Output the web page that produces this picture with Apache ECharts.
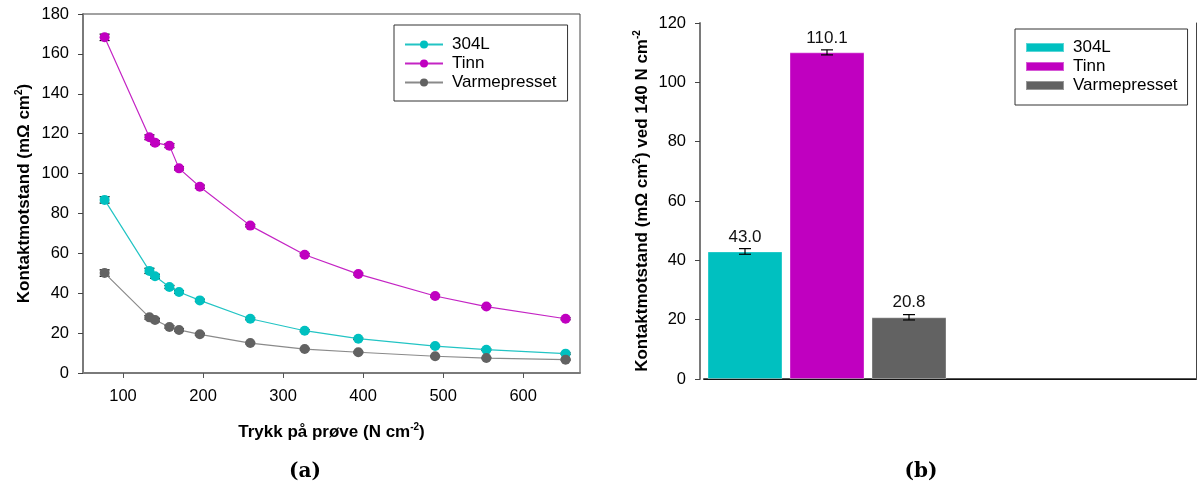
<!DOCTYPE html>
<html>
<head>
<meta charset="utf-8">
<script src="https://cdn.jsdelivr.net/npm/echarts@6/dist/echarts.min.js"></script>
<style>html,body{margin:0;padding:0;background:#fff}#c{width:1197px;height:491px}</style>
</head>
<body>
<div id="c"></div>
<script>
// ---- data (a): contact resistance vs pressure ----
const pressure = [77, 133, 140, 158, 170, 196, 259, 327, 394, 490, 554, 653];
const tinn     = [168.3, 118.2, 115.5, 114.0, 102.6, 93.4, 73.9, 59.3, 49.6, 38.6, 33.3, 27.2];
const tinnErr  = [1.6, 1.2, 1.0, 1.0, 0.8, 0.8, 0.6, 0.6, 0.5, 0.5, 0.5, 0.5];
const s304L    = [86.8, 51.2, 48.5, 43.1, 40.6, 36.4, 27.2, 21.2, 17.2, 13.5, 11.7, 9.7];
const s304LErr = [1.6, 1.3, 1.0, 0.8, 0.7, 0.6, 0.5, 0.5, 0.4, 0.4, 0.4, 0.4];
const varme    = [50.1, 27.9, 26.6, 23.1, 21.6, 19.4, 15.0, 12.0, 10.4, 8.4, 7.5, 6.7];
const varmeErr = [1.6, 0.9, 0.8, 0.6, 0.6, 0.5, 0.4, 0.4, 0.4, 0.3, 0.3, 0.3];
const xTicks   = [100, 200, 300, 400, 500, 600];

// ---- data (b): contact resistance at 140 N cm-2 ----
const barNames  = ['304L', 'Tinn', 'Varmepresset'];
const barValues = [43.0, 110.1, 20.8];
const barErr    = [0.95, 0.85, 0.9];
const barSlots  = ['304L', 'Tinn', 'Varmepresset', '', '', ''];

const colors = {'304L': '#00c0c0', 'Tinn': '#c000c0', 'Varmepresset': '#626262'};
const lineColors = {'304L': '#22c4c4', 'Tinn': '#c424c4', 'Varmepresset': '#8a8a8a'};

const chart = echarts.init(document.getElementById('c'), null, {renderer: 'canvas'});

function errItem(capHalf) {
  return function (params, api) {
    const x = api.value(0), y = api.value(1), e = api.value(2);
    const hi = api.coord([x, y + e]);
    const lo = api.coord([x, y - e]);
    const st = {stroke: '#000', lineWidth: 1.2};
    return {type: 'group', children: [
      {type: 'line', shape: {x1: hi[0], y1: hi[1], x2: lo[0], y2: lo[1]}, style: st},
      {type: 'line', shape: {x1: hi[0] - capHalf, y1: hi[1], x2: hi[0] + capHalf, y2: hi[1]}, style: st},
      {type: 'line', shape: {x1: lo[0] - capHalf, y1: lo[1], x2: lo[0] + capHalf, y2: lo[1]}, style: st}
    ]};
  };
}

const lineData = {'304L': [s304L, s304LErr], 'Tinn': [tinn, tinnErr], 'Varmepresset': [varme, varmeErr]};

const series = [];
barNames.forEach(function (n) {
  const vals = lineData[n][0], errs = lineData[n][1];
  series.push({
    type: 'custom', xAxisIndex: 0, yAxisIndex: 0, z: 1, silent: true,
    renderItem: errItem(5),
    data: pressure.map(function (p, i) { return [p, vals[i], errs[i]]; })
  });
  series.push({
    name: n, type: 'line', xAxisIndex: 0, yAxisIndex: 0, z: 3,
    symbol: 'circle', symbolSize: 10,
    itemStyle: {color: colors[n]},
    lineStyle: {color: lineColors[n], width: 1.2},
    data: pressure.map(function (p, i) { return [p, vals[i]]; })
  });
});

barNames.forEach(function (n, k) {
  series.push({
    name: 'bar:' + n, type: 'bar', xAxisIndex: 1, yAxisIndex: 1,
    barWidth: 75, barGap: '-100%',
    itemStyle: {color: colors[n], borderColor: 'rgba(255,255,255,0.35)', borderWidth: 1},
    label: {show: true, position: 'top', distance: 6, fontSize: 17, color: '#111',
            fontFamily: 'Liberation Sans', formatter: function (p) { return p.value.toFixed(1); }},
    data: barSlots.map(function (s, i) { return i === k ? barValues[k] : '-'; })
  });
  series.push({
    type: 'custom', xAxisIndex: 1, yAxisIndex: 1, z: 5, silent: true,
    renderItem: errItem(6),
    data: [[k, barValues[k], barErr[k]]]
  });
});

const nameStyle = {
  fontSize: 17, fontWeight: 'bold', color: '#000', fontFamily: 'Liberation Sans', lineHeight: 20,
  rich: {sup: {fontSize: 10, fontWeight: 'bold', color: '#000', fontFamily: 'Liberation Sans',
               verticalAlign: 'top', lineHeight: 12}}
};
const tickLabel = {fontSize: 16.5, color: '#000', fontFamily: 'Liberation Sans'};
const axisGray = {lineStyle: {color: '#7a7a7a', width: 2}};
const legendText = {fontSize: 17, color: '#000', lineHeight: 17, fontFamily: 'Liberation Sans', padding: [0, 0, 0, 4]};

chart.setOption({
  animation: false,
  textStyle: {fontFamily: 'Liberation Sans'},
  grid: [
    {left: 83, top: 14, width: 497, height: 359, show: true, borderColor: '#444', borderWidth: 1},
    {left: 704, top: 23, width: 492, height: 356, show: false}
  ],
  xAxis: [
    {gridIndex: 0, type: 'value', min: 50, max: 671,
     name: 'Trykk på prøve (N cm{sup|-2})', nameLocation: 'middle', nameGap: 49, nameTextStyle: nameStyle,
     axisLine: {show: true, onZero: false, lineStyle: {color: '#7a7a7a', width: 2}},
     axisTick: {show: true, length: 5, customValues: xTicks, lineStyle: {color: '#555'}},
     axisLabel: {margin: 15, customValues: xTicks, ...tickLabel},
     splitLine: {show: false}},
    {gridIndex: 1, type: 'category', data: barSlots,
     axisLine: {show: true, lineStyle: {color: '#555', width: 2}},
     axisTick: {show: false}, axisLabel: {show: false}, splitLine: {show: false}},
    {gridIndex: 1, type: 'category', data: barSlots, position: 'top',
     axisLine: {show: true, lineStyle: {color: '#111', width: 1}},
     axisTick: {show: false}, axisLabel: {show: false}, splitLine: {show: false}}
  ],
  yAxis: [
    {gridIndex: 0, type: 'value', min: 0, max: 180, interval: 20,
     name: 'Kontaktmotstand (mΩ cm{sup|2})', nameLocation: 'middle', nameGap: 49, nameTextStyle: nameStyle,
     axisLine: {show: true, ...axisGray},
     axisTick: {show: true, length: 5, lineStyle: {color: '#444'}},
     axisLabel: {margin: 14, ...tickLabel},
     splitLine: {show: false}},
    {gridIndex: 1, type: 'value', min: 0, max: 120, interval: 20, offset: 4,
     name: 'Kontaktmotstand (mΩ cm{sup|2}) ved 140 N cm{sup|-2}', nameLocation: 'middle', nameGap: 48, nameTextStyle: nameStyle,
     axisLine: {show: true, ...axisGray},
     axisTick: {show: true, length: 5, lineStyle: {color: '#444'}},
     axisLabel: {margin: 14, ...tickLabel},
     splitLine: {show: false}},
    {gridIndex: 1, type: 'value', min: 0, max: 120, position: 'right',
     axisLine: {show: true, lineStyle: {color: '#444', width: 1}},
     axisTick: {show: false}, axisLabel: {show: false}, splitLine: {show: false}}
  ],
  legend: [
    {orient: 'vertical', left: 394, top: 25, data: barNames,
     itemWidth: 38, itemHeight: 10, itemGap: 2,
     padding: [11, 11, 10, 10], borderColor: '#333', borderWidth: 1,
     textStyle: legendText},
    {orient: 'vertical', left: 1015, top: 29, data: barNames.map(function (n) { return 'bar:' + n; }),
     icon: 'rect', itemWidth: 38, itemHeight: 9, itemGap: 2,
     padding: [10, 10, 11, 10], borderColor: '#333', borderWidth: 1,
     formatter: function (n) { return n.replace('bar:', ''); },
     textStyle: legendText}
  ],
  graphic: [
    {type: 'text', x: 305, y: 472, style: {text: '(a)', fontSize: 20, fontWeight: 'bold', fontFamily: 'DejaVu Serif', fill: '#000', align: 'center', verticalAlign: 'middle'}},
    {type: 'text', x: 921, y: 472, style: {text: '(b)', fontSize: 20, fontWeight: 'bold', fontFamily: 'DejaVu Serif', fill: '#000', align: 'center', verticalAlign: 'middle'}}
  ],
  series: series
});
</script>
</body>
</html>
